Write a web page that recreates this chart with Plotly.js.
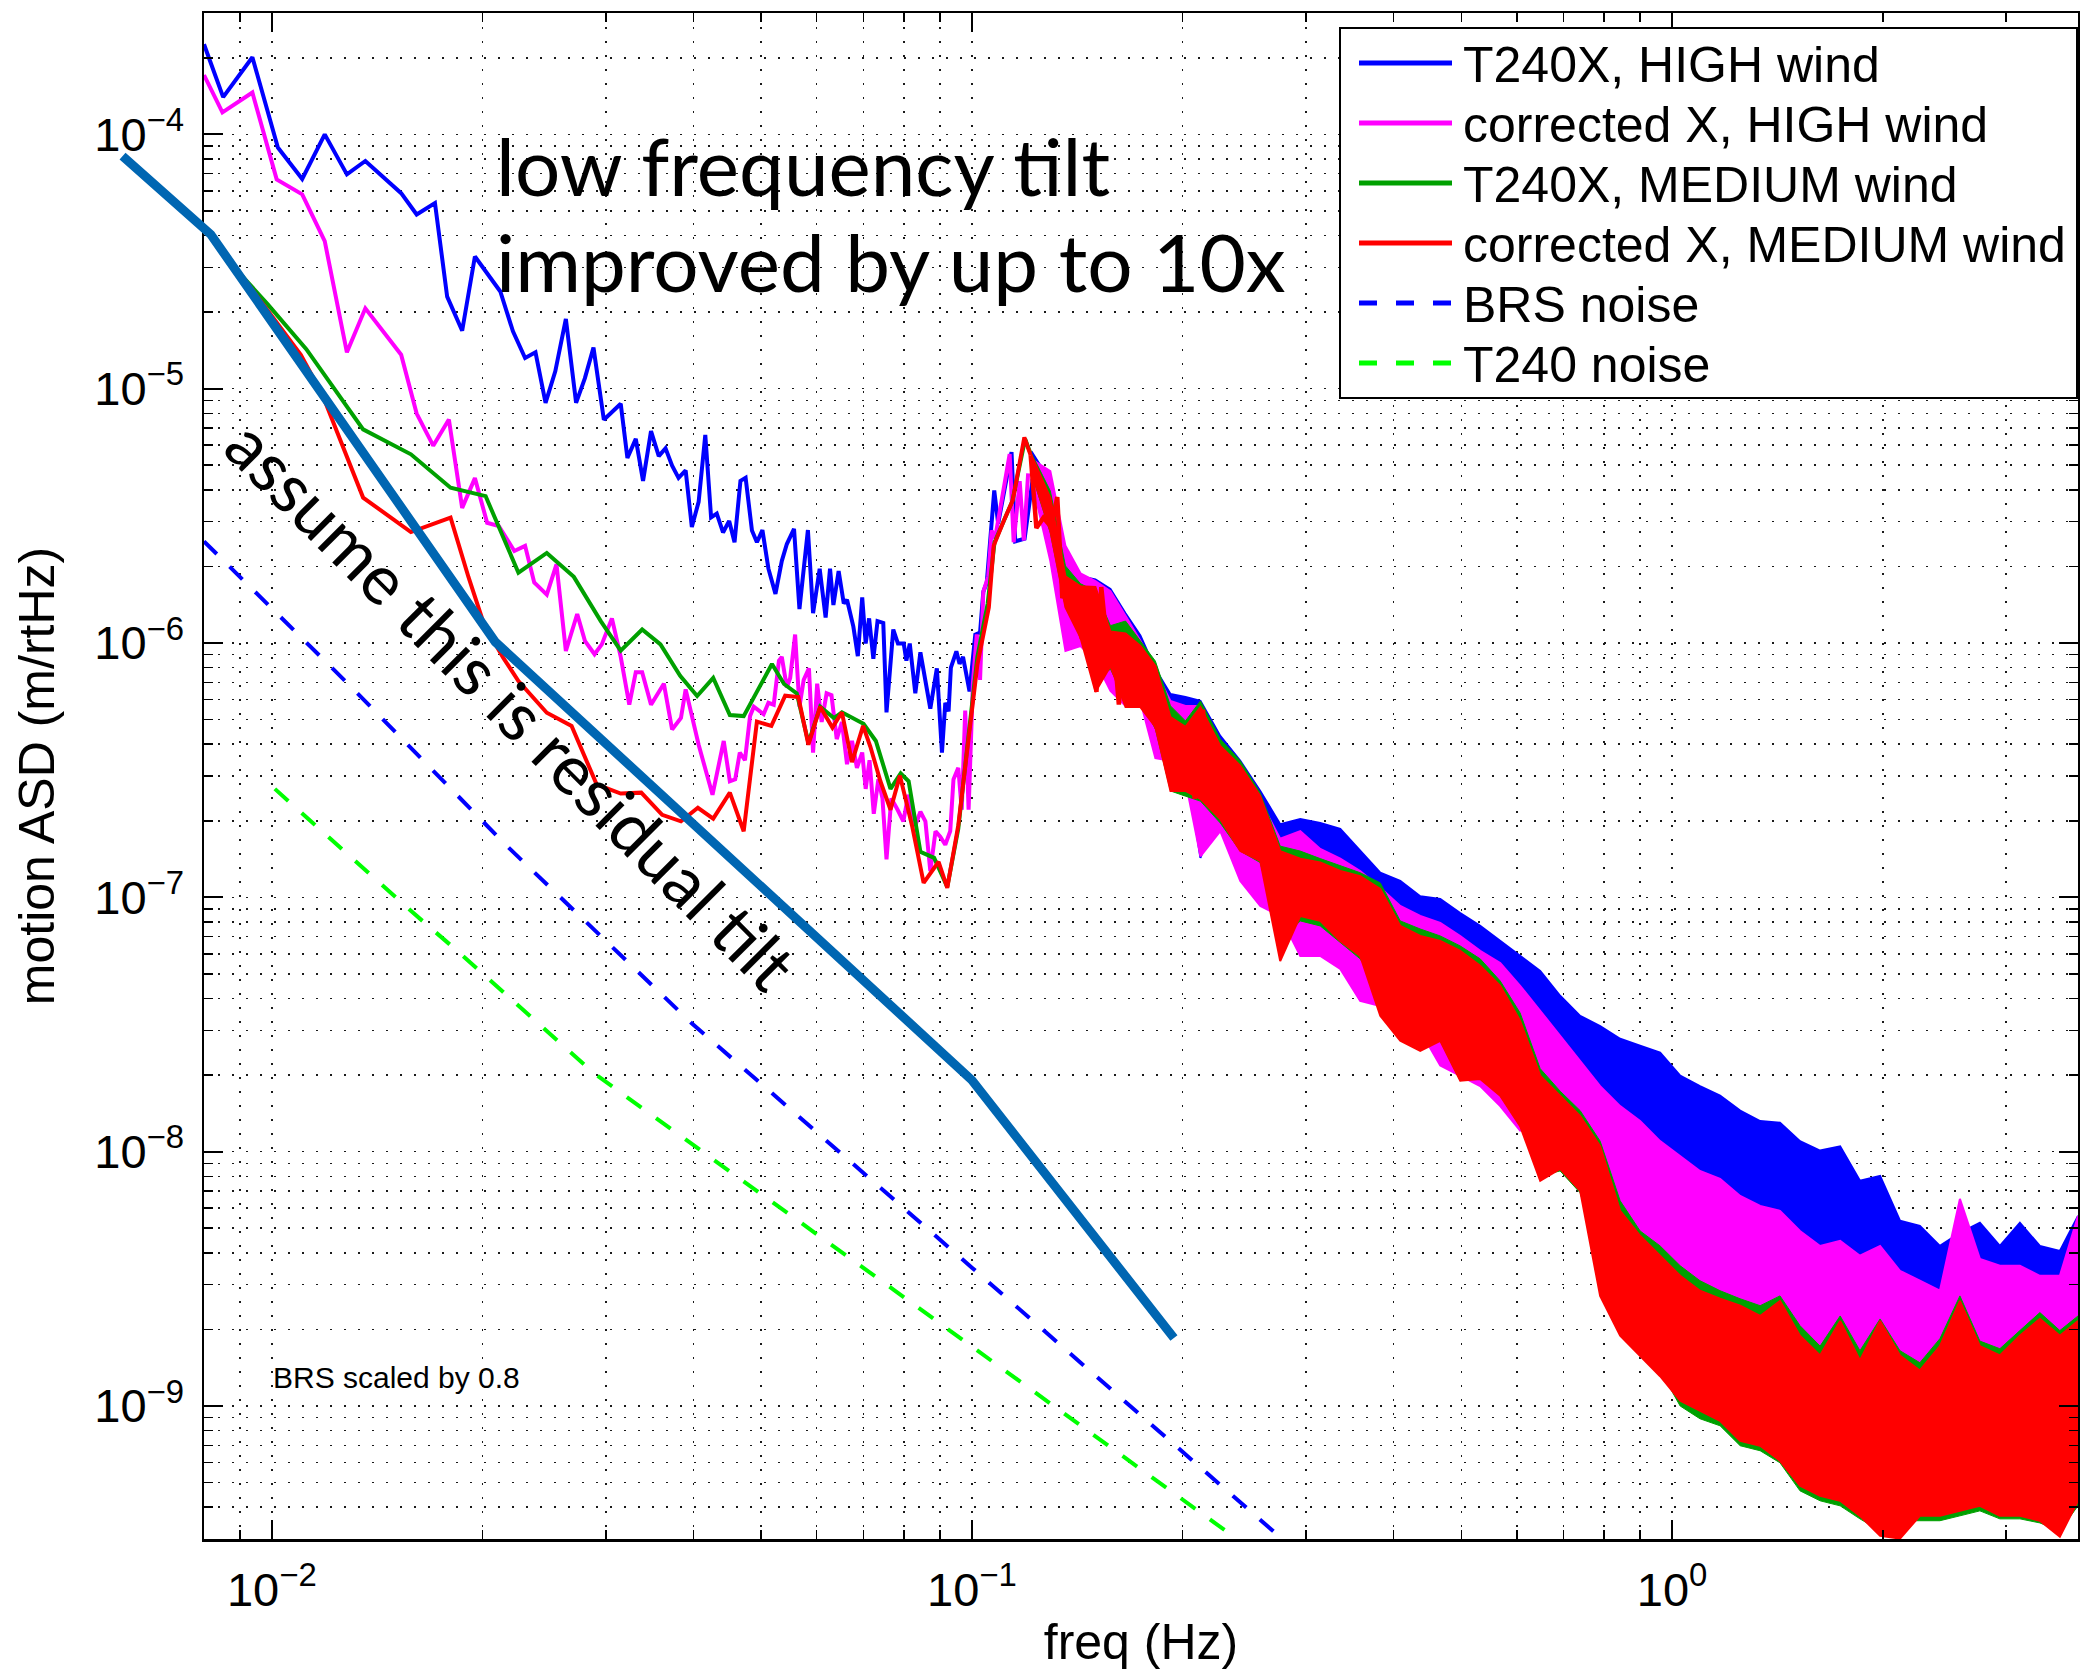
<!DOCTYPE html>
<html>
<head>
<meta charset="utf-8">
<script src="https://cdn.plot.ly/plotly-3.0.1.min.js"></script>
<style>
  html, body { margin: 0; padding: 0; background: #fff; }
  #chart { width: 2080px; height: 1670px; }
</style>
</head>
<body>
<div id="chart"></div>
<script>
// ---------------- series names & colours ----------------
const seriesNames = ['T240X, HIGH wind', 'corrected X, HIGH wind', 'T240X, MEDIUM wind',
                     'corrected X, MEDIUM wind', 'BRS noise', 'T240 noise'];
const seriesColors = ['#0000ff', '#ff00ff', '#00a000', '#ff0000', '#0000ff', '#00ff00'];
const seriesDash = ['solid', 'solid', 'solid', 'solid', 'dash', 'dash'];

// ---------------- axis ticks ----------------
const xTickVals = [0.01, 0.1, 1];
const xTickExp = ['−2', '−1', '0'];
const yTickVals = [1e-9, 1e-8, 1e-7, 1e-6, 1e-5, 1e-4];
const yTickExp = ['−9', '−8', '−7', '−6', '−5', '−4'];

// ---------------- low-frequency spectra (Hz, m/rtHz) ----------------
const freqHighRaw = [0.008,0.00852,0.00938,0.0102,0.01105,0.0119,0.0128,0.0136,0.0153,0.0161,0.0171,0.0178,0.0187,0.0195,0.0212,0.0221,0.0230,0.0238,0.0246,0.0254,0.0263,0.0272,0.0280,0.0288,0.0298,0.0315,0.0322,0.0331,0.0339,0.0348,0.0357,0.0365,0.0373,0.0381,0.0390,0.0398,0.0407,0.0416,0.0424,0.0432,0.0441,0.0450,0.0458,0.0467,0.0475,0.0485,0.0493,0.0502,0.0512,0.0524,0.0535,0.0544,0.0557,0.0567,0.0583,0.0593,0.0606,0.0618,0.0627,0.0634,0.0645,0.0656,0.0663,0.0677,0.0687,0.0697,0.0705,0.0713,0.0723,0.0733,0.0747,0.0755,0.0772,0.0784,0.0799,0.0806,0.0815,0.0830,0.0844,0.0872,0.0891,0.0906,0.0916,0.0926,0.0933,0.0950,0.0960,0.0971,0.0992,0.1011,0.1027,0.1038,0.1050,0.1076,0.1090,0.1139,0.1153,0.1189,0.1222];
const asdHighRaw = [2.26e-4,1.40e-4,2.01e-4,8.87e-5,6.68e-5,1.00e-4,6.96e-5,7.86e-5,5.87e-5,4.84e-5,5.37e-5,2.30e-5,1.69e-5,3.31e-5,2.41e-5,1.68e-5,1.32e-5,1.39e-5,8.80e-6,1.17e-5,1.88e-5,8.80e-6,1.10e-5,1.45e-5,7.55e-6,8.73e-6,5.34e-6,6.35e-6,4.34e-6,6.81e-6,5.43e-6,5.83e-6,4.98e-6,4.46e-6,4.77e-6,2.86e-6,3.59e-6,6.58e-6,3.12e-6,3.23e-6,2.72e-6,3.02e-6,2.49e-6,4.34e-6,4.46e-6,2.77e-6,2.49e-6,2.78e-6,1.96e-6,1.56e-6,2.10e-6,2.45e-6,2.81e-6,1.36e-6,2.78e-6,1.31e-6,1.96e-6,1.26e-6,1.96e-6,1.41e-6,1.92e-6,1.43e-6,1.48e-6,1.16e-6,8.88e-7,1.51e-6,9.95e-7,1.25e-6,8.67e-7,1.22e-6,1.20e-6,5.34e-7,1.13e-6,9.95e-7,9.95e-7,8.52e-7,9.95e-7,6.34e-7,9.19e-7,5.52e-7,7.95e-7,3.71e-7,5.82e-7,5.39e-7,8.00e-7,9.28e-7,8.28e-7,8.82e-7,6.45e-7,1.08e-6,1.10e-6,1.59e-6,1.73e-6,3.98e-6,2.95e-6,5.63e-6,2.51e-6,2.57e-6,4.48e-6];

const freqHighCorr = [0.008,0.0085,0.00938,0.01016,0.01105,0.0119,0.0128,0.0136,0.0153,0.0161,0.0170,0.0179,0.0187,0.0195,0.0203,0.0211,0.0222,0.0230,0.0237,0.0247,0.0255,0.0263,0.0273,0.0280,0.0289,0.0296,0.0306,0.0315,0.0324,0.0331,0.0338,0.0348,0.0363,0.0373,0.0384,0.0390,0.0407,0.0426,0.0442,0.0451,0.0459,0.0466,0.0474,0.0482,0.0488,0.0504,0.0512,0.0521,0.0530,0.0535,0.0544,0.0550,0.0559,0.0567,0.0575,0.0585,0.0593,0.0601,0.0610,0.0620,0.0630,0.0641,0.0652,0.0663,0.0674,0.0685,0.0697,0.0705,0.0714,0.0724,0.0735,0.0745,0.0755,0.0767,0.0783,0.0798,0.0811,0.0830,0.0844,0.0858,0.0872,0.0887,0.0901,0.0916,0.0931,0.0941,0.0956,0.0967,0.0978,0.0989,0.1003,0.1016,0.1027,0.1038,0.1055,0.1067,0.1079,0.1132,0.1147,0.1170,0.1186,0.1203];
const asdHighCorr = [1.71e-4,1.22e-4,1.46e-4,6.65e-5,5.81e-5,3.80e-5,1.39e-5,2.07e-5,1.36e-5,7.98e-6,5.97e-6,7.57e-6,3.40e-6,4.45e-6,2.97e-6,2.88e-6,2.30e-6,2.41e-6,1.73e-6,1.55e-6,2.04e-6,9.30e-7,1.30e-6,1.02e-6,9.03e-7,9.88e-7,1.25e-6,8.82e-7,5.72e-7,7.68e-7,7.68e-7,5.72e-7,6.92e-7,4.57e-7,5.07e-7,6.57e-7,3.98e-7,2.53e-7,4.12e-7,2.86e-7,2.91e-7,3.71e-7,3.46e-7,5.16e-7,5.62e-7,5.25e-7,5.82e-7,5.72e-7,8.52e-7,8.82e-7,6.69e-7,7.29e-7,1.08e-6,5.62e-7,7.16e-7,7.95e-7,3.71e-7,6.92e-7,4.89e-7,6.34e-7,6.23e-7,4.19e-7,4.89e-7,3.34e-7,4.12e-7,3.23e-7,3.71e-7,2.67e-7,3.46e-7,2.13e-7,2.91e-7,2.45e-7,1.41e-7,2.45e-7,2.21e-7,1.99e-7,2.53e-7,1.92e-7,2.17e-7,1.99e-7,1.27e-7,1.82e-7,1.73e-7,1.61e-7,1.82e-7,2.91e-7,3.23e-7,2.21e-7,5.43e-7,2.21e-7,6.92e-7,1.08e-6,7.16e-7,1.59e-6,1.83e-6,2.77e-6,2.58e-6,5.53e-6,2.49e-6,4.33e-6,2.53e-6,4.65e-6];

const freqMedRaw = [0.008,0.00903,0.00986,0.0112,0.0135,0.0158,0.0180,0.0202,0.0225,0.0247,0.0270,0.0295,0.0315,0.0338,0.0359,0.0383,0.0405,0.0427,0.0451,0.0472,0.0518,0.0539,0.0562,0.0584,0.0607,0.0635,0.0652,0.0700,0.0729,0.0765,0.0791,0.0812,0.0844,0.0883,0.0922,0.0956,0.0984,0.1018,0.1053,0.1077,0.1142,0.1191,0.1212];
const asdMedRaw = [4.32e-5,2.81e-5,2.15e-5,1.43e-5,6.92e-6,5.52e-6,4.08e-6,3.78e-6,1.89e-6,2.26e-6,1.82e-6,1.22e-6,9.34e-7,1.13e-6,9.87e-7,7.43e-7,6.19e-7,7.29e-7,5.21e-7,5.16e-7,8.27e-7,6.90e-7,6.34e-7,4.05e-7,5.62e-7,5.07e-7,5.34e-7,4.81e-7,4.12e-7,2.67e-7,3.07e-7,2.86e-7,1.51e-7,1.43e-7,1.10e-7,1.86e-7,3.84e-7,8.82e-7,1.43e-6,2.49e-6,3.61e-6,6.34e-6,5.58e-6];

const freqMedCorr = [0.008,0.00903,0.0110,0.0118,0.0135,0.0158,0.0180,0.0191,0.0201,0.0214,0.0225,0.0247,0.0268,0.0291,0.0315,0.0337,0.0361,0.0384,0.0406,0.0427,0.0451,0.0472,0.0493,0.0517,0.0541,0.0565,0.0584,0.0607,0.0632,0.0652,0.0674,0.0699,0.0716,0.0740,0.0765,0.0789,0.0822,0.0853,0.0896,0.0922,0.0956,0.0984,0.1018,0.1057,0.1074,0.1113,0.1144,0.1188,0.1213];
const asdMedCorr = [4.32e-5,2.81e-5,1.36e-5,9.50e-6,3.73e-6,2.73e-6,3.11e-6,1.81e-6,1.18e-6,8.76e-7,7.09e-7,5.32e-7,4.72e-7,2.78e-7,2.56e-7,2.58e-7,2.11e-7,1.99e-7,2.25e-7,2.04e-7,2.58e-7,1.82e-7,4.91e-7,4.72e-7,6.21e-7,6.13e-7,3.98e-7,5.62e-7,4.65e-7,5.34e-7,3.40e-7,4.72e-7,3.91e-7,2.86e-7,2.21e-7,3.01e-7,1.89e-7,1.14e-7,1.38e-7,1.09e-7,1.92e-7,3.77e-7,8.23e-7,1.38e-6,2.41e-6,3.07e-6,3.65e-6,6.44e-6,5.47e-6];

// ---------------- high-frequency spectra: upper / lower extent of the dense trace ----------------
const bandFreq = [0.1216,0.1294,0.1360,0.1429,0.1501,0.1577,0.1657,0.1740,0.1828,0.1921,0.2018,0.2120,0.2263,0.2417,0.2581,0.2756,0.2944,0.3144,0.3358,0.3585,0.3830,0.4090,0.4368,0.4665,0.4982,0.5320,0.5682,0.6067,0.6481,0.6920,0.7391,0.7893,0.8430,0.9001,0.9614,1.027,1.096,1.171,1.251,1.336,1.426,1.523,1.627,1.738,1.855,1.982,2.116,2.259,2.413,2.577,2.752,2.939,3.139,3.352,3.580,3.80];

const highRawTop = [5.68e-6,4.33e-6,2.20e-6,1.83e-6,1.78e-6,1.63e-6,1.31e-6,1.07e-6,
  7.90e-7,6.30e-7,6.13e-7,5.92e-7,4.31e-7,3.44e-7,2.62e-7,1.94e-7,
  2.03e-7,1.96e-7,1.86e-7,1.52e-7,1.25e-7,1.16e-7,1.01e-7,9.86e-8,
  8.68e-8,7.72e-8,6.74e-8,5.88e-8,5.14e-8,4.10e-8,3.42e-8,3.12e-8,
  2.78e-8,2.61e-8,2.45e-8,1.99e-8,1.81e-8,1.66e-8,1.45e-8,1.32e-8,
  1.30e-8,1.10e-8,1.01e-8,1.05e-8,7.68e-9,8.03e-9,5.35e-9,5.11e-9,
  4.26e-9,4.80e-9,5.25e-9,4.26e-9,5.25e-9,4.26e-9,4.07e-9,5.59e-9];
const highRawBot = [4.41e-6,2.52e-6,1.46e-6,1.11e-6,1.02e-6,9.30e-7,8.49e-7,6.48e-7,
  4.94e-7,4.12e-7,3.44e-7,1.43e-7,2.39e-7,1.67e-7,1.39e-7,1.16e-7,
  9.68e-8,9.25e-8,8.84e-8,8.08e-8,7.38e-8,6.44e-8,5.62e-8,5.14e-8,
  4.49e-8,3.92e-8,3.58e-8,2.99e-8,2.49e-8,2.18e-8,1.90e-8,1.58e-8,
  1.32e-8,1.15e-8,1.01e-8,8.40e-9,7.34e-9,6.41e-9,5.59e-9,5.11e-9,
  4.88e-9,4.07e-9,3.72e-9,3.56e-9,3.11e-9,2.97e-9,2.59e-9,2.37e-9,
  2.16e-9,2.16e-9,2.37e-9,2.16e-9,2.26e-9,2.16e-9,2.07e-9,2.37e-9];

const highCorrTop = [5.29e-6,4.74e-6,2.41e-6,1.88e-6,1.75e-6,1.60e-6,1.28e-6,1.02e-6,
  7.76e-7,5.92e-7,5.66e-7,5.66e-7,4.05e-7,3.14e-7,2.39e-7,1.70e-7,
  1.82e-7,1.55e-7,1.42e-7,1.27e-7,1.09e-7,9.25e-8,8.45e-8,7.93e-8,
  7.05e-8,6.16e-8,5.52e-8,4.49e-8,3.58e-8,2.85e-8,2.28e-8,1.81e-8,
  1.51e-8,1.32e-8,1.10e-8,9.63e-9,8.40e-9,7.82e-9,6.70e-9,6.12e-9,
  5.85e-9,4.88e-9,4.26e-9,4.46e-9,3.90e-9,4.26e-9,3.40e-9,3.11e-9,
  2.84e-9,6.52e-9,3.79e-9,3.56e-9,3.56e-9,3.25e-9,3.25e-9,5.59e-9];
const highCorrBot = [4.41e-6,2.10e-6,9.30e-7,9.73e-7,8.49e-7,6.48e-7,5.66e-7,5.92e-7,
  3.53e-7,3.44e-7,2.87e-7,1.45e-7,1.82e-7,1.16e-7,9.25e-8,8.45e-8,
  5.88e-8,5.88e-8,5.23e-8,3.92e-8,3.74e-8,3.58e-8,2.99e-8,2.18e-8,
  1.99e-8,1.81e-8,1.51e-8,1.21e-8,1.26e-8,1.21e-8,1.01e-8,7.68e-9,
  5.11e-9,4.26e-9,2.97e-9,2.71e-9,2.48e-9,2.16e-9,1.98e-9,1.80e-9,
  1.65e-9,1.51e-9,1.31e-9,1.20e-9,1.10e-9,1.05e-9,1.00e-9,9.58e-10,
  1.05e-9,1.20e-9,1.10e-9,1.00e-9,1.10e-9,1.05e-9,1.10e-9,1.26e-9];

const medRawTop = [5.58e-6,3.96e-6,2.01e-6,1.71e-6,1.60e-6,1.17e-6,1.22e-6,1.02e-6,
  8.49e-7,5.66e-7,4.94e-7,5.92e-7,4.19e-7,3.44e-7,2.57e-7,1.59e-7,
  1.52e-7,1.42e-7,1.33e-7,1.25e-7,1.14e-7,8.08e-8,7.51e-8,7.05e-8,
  6.44e-8,5.73e-8,4.69e-8,3.51e-8,2.12e-8,1.73e-8,1.45e-8,1.10e-8,
  6.41e-9,4.88e-9,4.26e-9,3.56e-9,3.11e-9,2.84e-9,2.64e-9,2.48e-9,
  2.71e-9,2.07e-9,1.72e-9,2.26e-9,1.65e-9,2.20e-9,1.65e-9,1.48e-9,
  1.84e-9,2.71e-9,1.80e-9,1.68e-9,1.98e-9,2.33e-9,1.98e-9,2.26e-9];
const medRawBot = [4.66e-6,2.71e-6,1.38e-6,1.05e-6,7.09e-7,7.90e-7,5.92e-7,5.92e-7,
  4.59e-7,2.62e-7,2.50e-7,2.39e-7,1.96e-7,1.52e-7,1.37e-7,6.74e-8,
  8.08e-8,7.72e-8,6.62e-8,5.73e-8,4.29e-8,2.99e-8,2.61e-8,2.73e-8,
  1.90e-8,1.99e-8,1.66e-8,1.26e-8,8.03e-9,8.40e-9,6.89e-9,3.72e-9,
  1.98e-9,1.72e-9,1.38e-9,1.00e-9,8.91e-10,8.36e-10,6.98e-10,6.67e-10,
  5.98e-10,4.64e-10,4.24e-10,4.05e-10,3.60e-10,3.23e-10,3.54e-10,3.54e-10,
  3.54e-10,3.70e-10,3.87e-10,3.60e-10,3.60e-10,3.47e-10,3.23e-10,4.05e-10];

const medCorrTop = [5.48e-6,3.72e-6,1.83e-6,1.67e-6,1.66e-6,1.11e-6,1.09e-6,9.73e-7,
  8.12e-7,5.12e-7,4.68e-7,5.60e-7,3.94e-7,3.29e-7,2.50e-7,1.52e-7,
  1.42e-7,1.37e-7,1.27e-7,1.21e-7,1.08e-7,7.72e-8,7.05e-8,6.74e-8,
  6.16e-8,5.38e-8,4.49e-8,3.27e-8,1.99e-8,1.66e-8,1.38e-8,1.05e-8,
  5.85e-9,4.67e-9,3.90e-9,3.25e-9,2.84e-9,2.64e-9,2.48e-9,2.26e-9,
  2.59e-9,1.89e-9,1.58e-9,2.16e-9,1.51e-9,2.16e-9,1.58e-9,1.38e-9,
  1.72e-9,2.59e-9,1.72e-9,1.58e-9,1.89e-9,2.20e-9,1.89e-9,2.16e-9];
const medCorrBot = [4.74e-6,2.76e-6,1.38e-6,1.05e-6,6.42e-7,8.12e-7,5.60e-7,5.60e-7,
  4.68e-7,2.62e-7,2.62e-7,2.44e-7,2.03e-7,1.52e-7,1.39e-7,5.62e-8,
  8.45e-8,8.08e-8,6.74e-8,5.88e-8,3.42e-8,2.73e-8,2.49e-8,2.73e-8,
  1.90e-8,1.93e-8,1.66e-8,1.26e-8,7.68e-9,8.56e-9,7.01e-9,2.71e-9,
  1.89e-9,1.58e-9,1.31e-9,1.05e-9,9.58e-10,8.75e-10,7.30e-10,6.98e-10,
  6.09e-10,4.86e-10,4.44e-10,4.24e-10,3.70e-10,3.09e-10,3.01e-10,3.70e-10,
  3.70e-10,3.87e-10,4.05e-10,3.70e-10,3.70e-10,3.54e-10,3.06e-10,4.24e-10];

// corrected MEDIUM trace between the resonance and 0.22 Hz, where single spikes are still resolved
const freqMedCorrMid = [0.1213,0.1236,0.1265,0.1299,0.1324,0.1346,0.1367,0.1399,0.1435,0.1473,0.1506,0.1530,0.1571,0.1590,0.1621,0.1653,0.1678,0.1717,0.1755,0.1799,0.1835,0.1875,0.1911,0.1954,0.2004,0.2040,0.2080,0.2138,0.2187];
const asdMedCorrMid = [5.47e-6,2.83e-6,3.11e-6,2.85e-6,3.75e-6,1.50e-6,1.70e-6,1.38e-6,1.04e-6,1.35e-6,6.43e-7,1.66e-6,8.10e-7,1.09e-6,5.73e-7,1.09e-6,6.37e-7,9.74e-7,5.60e-7,8.10e-7,4.65e-7,4.14e-7,4.87e-7,3.87e-7,2.67e-7,4.65e-7,2.44e-7,5.47e-7,2.49e-7];

// ---------------- instrument noise curves ----------------
const freqBRS = [0.008, 0.01294, 0.02167, 0.03978, 0.1, 0.2774];
const asdBRS = [2.51e-6, 6.78e-7, 1.59e-7, 3.20e-8, 3.50e-9, 3.0e-10];
const freqT240 = [0.0101, 0.0159, 0.0184, 0.0288, 0.0775, 0.239];
const asdT240 = [2.67e-7, 8.71e-8, 6.16e-8, 2.04e-8, 2.85e-9, 3.0e-10];

// ---------------- assumed residual tilt ----------------
const freqTilt = [0.00612, 0.00818, 0.02085, 0.1, 0.1943];
const asdTilt = [8.21e-5, 4.04e-5, 1.01e-6, 1.91e-8, 1.85e-9];

// ---------------- text ----------------
const noteTilt = ['low frequency tilt', 'improved by up to 10x'];
const noteResidual = 'assume this is residual tilt';
const noteBRS = 'BRS scaled by 0.8';
const xTitle = 'freq (Hz)';
const yTitle = 'motion ASD (m/rtHz)';

// ---------------- page geometry ----------------
const W = 2080, H = 1670;
const M = { l: 110, r: 2, t: 13, b: 131 };
const axesLeftPx = 204;                 // left edge of the axes box
const plotW = W - M.l - M.r, plotH = H - M.t - M.b;
const px = x => (x - M.l) / plotW;      // page px -> paper fraction
const py = y => 1 - (y - M.t) / plotH;

const xRange = [Math.log10(0.008), Math.log10(3.8)];
const yRange = [Math.log10(3e-10), Math.log10(3e-4)];
const xDom0 = px(axesLeftPx);
const pxPerDecade = plotW * (1 - xDom0) / (xRange[1] - xRange[0]);
// a wider, invisible x scale with the same px/decade, so the hand-drawn tilt
// guide can run past the left edge of the axes box
const xRangeWide = [xRange[0] - (axesLeftPx - M.l) / pxPerDecade, xRange[1]];

const FONT = 'Liberation Sans, Arial, Helvetica, sans-serif';
const NOTE_FONT = 'Lato, "Open Sans", sans-serif';
const powerLabel = e => '10<sup>' + e + '</sup>';

function lineTrace(i, f, v, extra) {
  return Object.assign({
    type: 'scatter', mode: 'lines', name: seriesNames[i], x: f, y: v,
    line: { color: seriesColors[i], width: 4, dash: seriesDash[i] === 'dash' ? '18px,18px' : 'solid' },
    showlegend: false
  }, extra || {});
}
function bandTrace(i, f, top, bot, edge) {
  return {
    type: 'scatter', mode: 'lines', name: seriesNames[i],
    x: f.concat(f.slice().reverse()), y: top.concat(bot.slice().reverse()),
    fill: 'toself', fillcolor: seriesColors[i],
    line: { color: seriesColors[i], width: edge }, showlegend: false, hoverinfo: 'skip'
  };
}

const traces = [
  lineTrace(0, freqHighRaw, asdHighRaw), bandTrace(0, bandFreq, highRawTop, highRawBot, 2),
  lineTrace(1, freqHighCorr, asdHighCorr), bandTrace(1, bandFreq, highCorrTop, highCorrBot, 2),
  lineTrace(2, freqMedRaw, asdMedRaw), bandTrace(2, bandFreq, medRawTop, medRawBot, 1),
  lineTrace(3, freqMedCorr, asdMedCorr), bandTrace(3, bandFreq, medCorrTop, medCorrBot, 2),
  lineTrace(3, freqMedCorrMid, asdMedCorrMid, { line: { color: seriesColors[3], width: 4.5 } }),
  lineTrace(4, freqBRS, asdBRS),
  lineTrace(5, freqT240, asdT240),
  { type: 'scatter', mode: 'lines', name: 'residual tilt', x: freqTilt, y: asdTilt,
    xaxis: 'x2', yaxis: 'y2', line: { color: '#0066b2', width: 9 }, showlegend: false }
];

const gridDash = '2px,12px';
const axisCommon = {
  type: 'log', showline: true, linecolor: '#000', linewidth: 2.5, mirror: 'ticks',
  ticks: 'inside', ticklen: 19, tickwidth: 2, tickcolor: '#000',
  showgrid: true, gridcolor: '#1a1a1a', gridwidth: 1.5, griddash: gridDash,
  zeroline: false, tickmode: 'array',
  minor: { ticks: 'inside', ticklen: 9, tickwidth: 1.5, tickcolor: '#000', dtick: 'D1',
           showgrid: true, gridcolor: '#1a1a1a', gridwidth: 1.5, griddash: gridDash },
  tickfont: { family: FONT, size: 47, color: '#000' },
  automargin: false
};

// legend (drawn as a boxed key on the page)
const legTop = 28, legBottom = 398, legLeft = 1340, legRight = 2077;
const rowY0 = 63, rowStep = 60;
const shapes = [{
  type: 'rect', xref: 'paper', yref: 'paper',
  x0: px(legLeft), x1: px(legRight), y0: py(legBottom), y1: py(legTop),
  line: { color: '#000', width: 2 }, fillcolor: '#fff', layer: 'above'
}];
const annotations = [];
seriesNames.forEach((name, i) => {
  const y = rowY0 + rowStep * i;
  shapes.push({
    type: 'line', xref: 'paper', yref: 'paper',
    x0: px(1359), x1: px(1452), y0: py(y), y1: py(y),
    line: { color: seriesColors[i], width: 5, dash: seriesDash[i] === 'dash' ? '18px,19px' : 'solid' },
    layer: 'above'
  });
  annotations.push({
    xref: 'paper', yref: 'paper', x: px(1461), y: py(y + 2), xanchor: 'left', yanchor: 'middle',
    text: name, showarrow: false, font: { family: FONT, size: 50, color: '#000' }
  });
});

annotations.push(
  { xref: 'paper', yref: 'paper', x: px(494), y: py(165), xanchor: 'left', yanchor: 'middle',
    text: noteTilt[0], showarrow: false, font: { family: NOTE_FONT, size: 80, color: '#000' } },
  { xref: 'paper', yref: 'paper', x: px(494), y: py(261), xanchor: 'left', yanchor: 'middle',
    text: noteTilt[1], showarrow: false, font: { family: NOTE_FONT, size: 80, color: '#000' } },
  { xref: 'paper', yref: 'paper', x: px(512), y: py(704), xanchor: 'center', yanchor: 'middle',
    text: noteResidual, textangle: 45, showarrow: false,
    font: { family: NOTE_FONT, size: 69, color: '#000' } },
  { xref: 'paper', yref: 'paper', x: px(271), y: py(1377), xanchor: 'left', yanchor: 'middle',
    text: noteBRS, showarrow: false, font: { family: FONT, size: 30, color: '#000' } }
);

const layout = {
  width: W, height: H, margin: M,
  paper_bgcolor: '#fff', plot_bgcolor: 'rgba(0,0,0,0)',
  showlegend: false, font: { family: FONT, color: '#000' },
  xaxis: Object.assign({}, axisCommon, {
    domain: [xDom0, 1], range: xRange, anchor: 'y', ticklabelstandoff: 8,
    tickvals: xTickVals, ticktext: xTickExp.map(powerLabel),
    title: { text: xTitle, font: { family: FONT, size: 50, color: '#000' }, standoff: 10 }
  }),
  yaxis: Object.assign({}, axisCommon, {
    domain: [0, 1], range: yRange, anchor: 'x', ticklabelstandoff: 8,
    tickvals: yTickVals, ticktext: yTickExp.map(powerLabel),
    title: { text: yTitle, font: { family: FONT, size: 50, color: '#000' }, standoff: 24 }
  }),
  xaxis2: { type: 'log', domain: [0, 1], range: xRangeWide, anchor: 'y2', visible: false },
  yaxis2: { type: 'log', domain: [0, 1], range: yRange, anchor: 'x2', visible: false },
  shapes: shapes,
  annotations: annotations
};

Plotly.newPlot('chart', traces, layout, { staticPlot: true, displayModeBar: false });
</script>
</body>
</html>
